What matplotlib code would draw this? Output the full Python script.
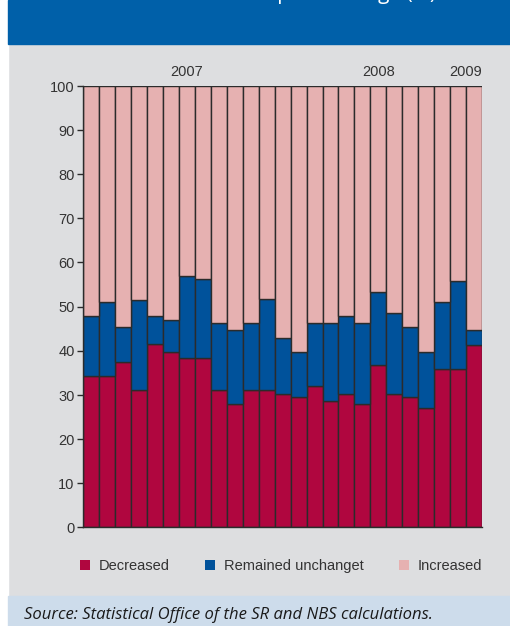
import numpy as np
import matplotlib
matplotlib.use('Agg')
import matplotlib.pyplot as plt
from matplotlib.patches import Rectangle, Patch

# monthly survey, Jan 2007 - Jan 2009 (shares in %)
decreased = [34.3, 34.3, 37.5, 31.2, 41.5, 39.8, 38.3, 38.3, 31.2, 27.9, 31.2, 31.2, 30.3,
             29.4, 31.9, 28.7, 30.3, 27.9, 36.7, 30.3, 29.4, 27.1, 35.8, 35.8, 41.4]
unchanged_top = [47.8, 51.0, 45.3, 51.5, 47.8, 47.0, 57.0, 56.3, 46.3, 44.6, 46.3, 51.6, 42.9,
                 39.8, 46.3, 46.3, 47.8, 46.3, 53.2, 48.6, 45.3, 39.8, 51.0, 55.7, 44.6]
years = ['2007', '2008', '2009']
year_pos = [6, 18, 24]
legend_labels = ['Decreased', 'Remained unchanget', 'Increased']

dec = np.array(decreased)
unch = np.array(unchanged_top) - dec
inc = 100 - np.array(unchanged_top)

c_dec = '#B0063F'
c_unch = '#00529B'
c_inc = '#E6B1B1'
bg = '#DDDEE0'
txt = '#333333'

plt.rcParams['font.family'] = ['Liberation Sans', 'DejaVu Sans']

W, H = 510, 626
fig = plt.figure(figsize=(W / 100 + 0.002, H / 100 + 0.002), dpi=100, facecolor=bg)

# frame pieces: white strip, blue header, source band
fig.patches.append(Rectangle((0, 0), 8 / W, 1, transform=fig.transFigure, color='white', zorder=0))
fig.patches.append(Rectangle((8 / W, 1 - 44 / H), 1, 44 / H, transform=fig.transFigure,
                             color='#0060A9', zorder=0))
fig.patches.append(Rectangle((8 / W, 0), 1, 30 / H, transform=fig.transFigure,
                             color='#CDDCEB', zorder=0))
fig.text(436 / W, 1 + 1 / H, 'Assessment of price change (%)', color='white', ha='right',
         va='baseline', fontsize=15, family='Open Sans')

ax = fig.add_axes([83 / W, 1 - 527.3 / H, (482 - 83) / W, (527.3 - 86) / H])
ax.set_facecolor(bg)

x = np.arange(len(dec))
kw = dict(width=1.0, edgecolor='#2b2b2b', linewidth=1.0)
ax.bar(x, dec, color=c_dec, **kw)
ax.bar(x, unch, bottom=dec, color=c_unch, **kw)
ax.bar(x, inc, bottom=dec + unch, color=c_inc, **kw)

ax.set_xlim(-0.5, len(dec) - 0.5)
ax.set_ylim(0, 100)
ax.set_yticks(range(0, 101, 10))
ax.set_xticks([])
for s in ['top', 'right']:
    ax.spines[s].set_visible(False)
for s in ['left', 'bottom']:
    ax.spines[s].set_color('#2b2b2b')
    ax.spines[s].set_linewidth(1.0)
ax.tick_params(axis='y', length=4, width=1, color='#2b2b2b', labelcolor=txt, labelsize=10.5, pad=2)

for yr, p in zip(years, year_pos):
    if p == year_pos[-1]:
        ax.text(p + 0.5, 101.5, yr, ha='right', va='bottom', fontsize=10.5, color=txt)
    else:
        ax.text(p, 101.5, yr, ha='center', va='bottom', fontsize=10.5, color=txt)

handles = [Patch(facecolor=c, edgecolor='none') for c in [c_dec, c_unch, c_inc]]
fig.legend(handles, legend_labels, loc='center', bbox_to_anchor=(281 / W, 1 - 566 / H),
           ncol=3, frameon=False, fontsize=10.5, handlelength=0.7, handleheight=0.7,
           handletextpad=0.6, columnspacing=2.4, labelcolor=txt)

fig.text(24 / W, 7 / H, 'Source: Statistical Office of the SR and NBS calculations.',
         fontsize=12, style='italic', family='Open Sans', color='#1a1a1a', va='baseline')

fig.savefig('out.png', dpi=100, facecolor=bg)
